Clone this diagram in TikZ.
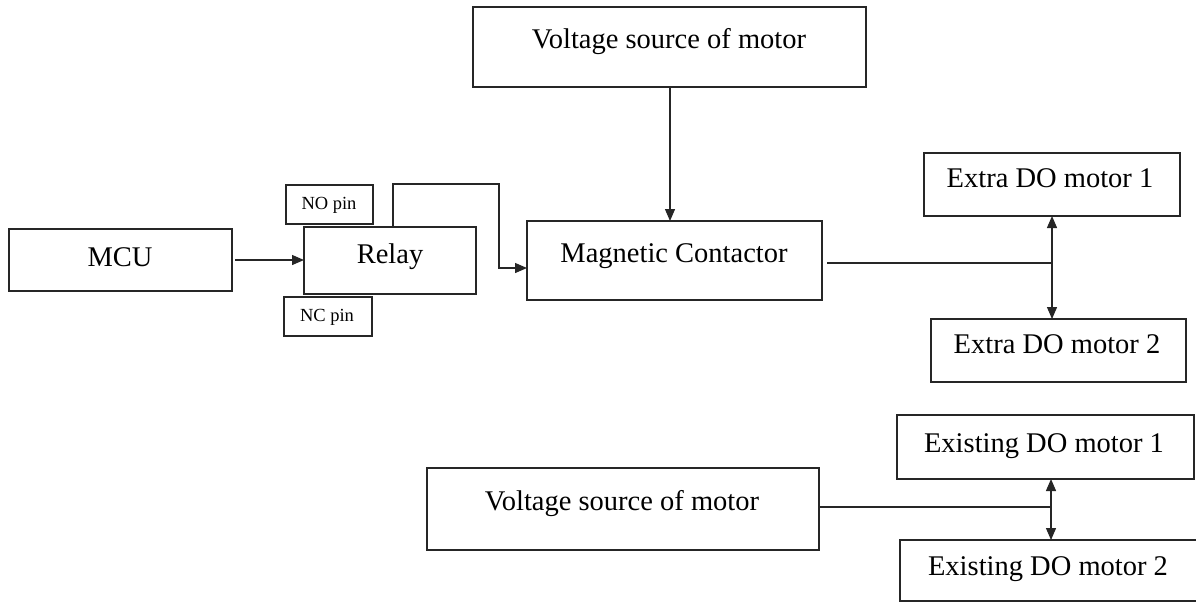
\documentclass[tikz,border=0pt]{standalone}
\usepackage{fontspec}
\setmainfont{Liberation Serif}
\usetikzlibrary{arrows.meta}
\begin{document}
\begin{tikzpicture}[x=1pt,y=-1pt,
  box/.style={draw=black!85,line width=1.3pt,inner sep=0pt,outer sep=0pt},
  txt/.style={anchor=base,inner sep=0pt,font=\fontsize{28.5}{34}\selectfont},
  smalltxt/.style={anchor=base,inner sep=0pt,font=\fontsize{18.5}{22}\selectfont},
  wire/.style={draw=black!85,line width=1.3pt},
  arr/.style={wire,-{Triangle[length=12pt,width=10pt]}},
  arrtwo/.style={wire,{Triangle[length=12pt,width=10pt]}-{Triangle[length=12pt,width=10pt]}}]
\useasboundingbox (0,0) rectangle (1196,603);
\clip (0,0) rectangle (1196,603);
% boxes
\newcommand{\mybox}[5]{\node[box,minimum width={#4-#2},minimum height={#5-#3}] (#1) at ({(#2+#4)/2},{(#3+#5)/2}) {};}
\mybox{vtop}{473}{7}{866}{87}
\mybox{mc}{527}{221}{822}{300}
\mybox{mcu}{9}{229}{232}{291}
\mybox{relay}{304}{227}{476}{294}
\mybox{nopin}{286}{185}{373}{224}
\mybox{ncpin}{284}{297}{372}{336}
\mybox{exa}{924}{153}{1180}{216}
\mybox{exb}{931}{319}{1186}{382}
\mybox{vbot}{427}{468}{819}{550}
\mybox{esa}{897}{415}{1194}{479}
\mybox{esb}{900}{540}{1214}{601}
% texts
\node[txt] (vtopt) at (669,48) {Voltage source of motor};
\node[txt] (mct) at (674,262) {Magnetic Contactor};
\node[txt] (mcut) at (120,266) {MCU};
\node[txt] (relayt) at (390,263) {Relay};
\node[smalltxt] (nopint) at (329,209) {NO pin};
\node[smalltxt] (ncpint) at (327,321) {NC pin};
\node[txt] (exat) at (1050,187) {Extra DO motor 1};
\node[txt] (exbt) at (1057,353) {Extra DO motor 2};
\node[txt] (vbott) at (622,510) {Voltage source of motor};
\node[txt] (esat) at (1044,452) {Existing DO motor 1};
\node[txt] (esbt) at (1048,575) {Existing DO motor 2};
% connectors
\coordinate (rwa) at (393,184);
\coordinate (rwb) at (499,184);
\coordinate (rwc) at (499,268);
\coordinate (ja) at (1052,263);
\coordinate (jb) at (1051,507);
\draw[arr] ([xshift=3pt]mcu.east) -- (relay.west |- mcu.east);
\draw[arr] (vtop.south -| 670,0) -- (mc.north -| 670,0);
\draw[arr] (relay.north -| rwa) -- (rwa) -- (rwb) -- (rwc) -- (mc.west |- rwc);
\draw[wire] ([xshift=5pt]mc.east |- ja) -- (ja);
\draw[arrtwo] (exa.south -| ja) -- (exb.north -| ja);
\draw[wire] (vbot.east |- jb) -- (jb);
\draw[arrtwo] (esa.south -| jb) -- (esb.north -| jb);
\end{tikzpicture}
\end{document}
